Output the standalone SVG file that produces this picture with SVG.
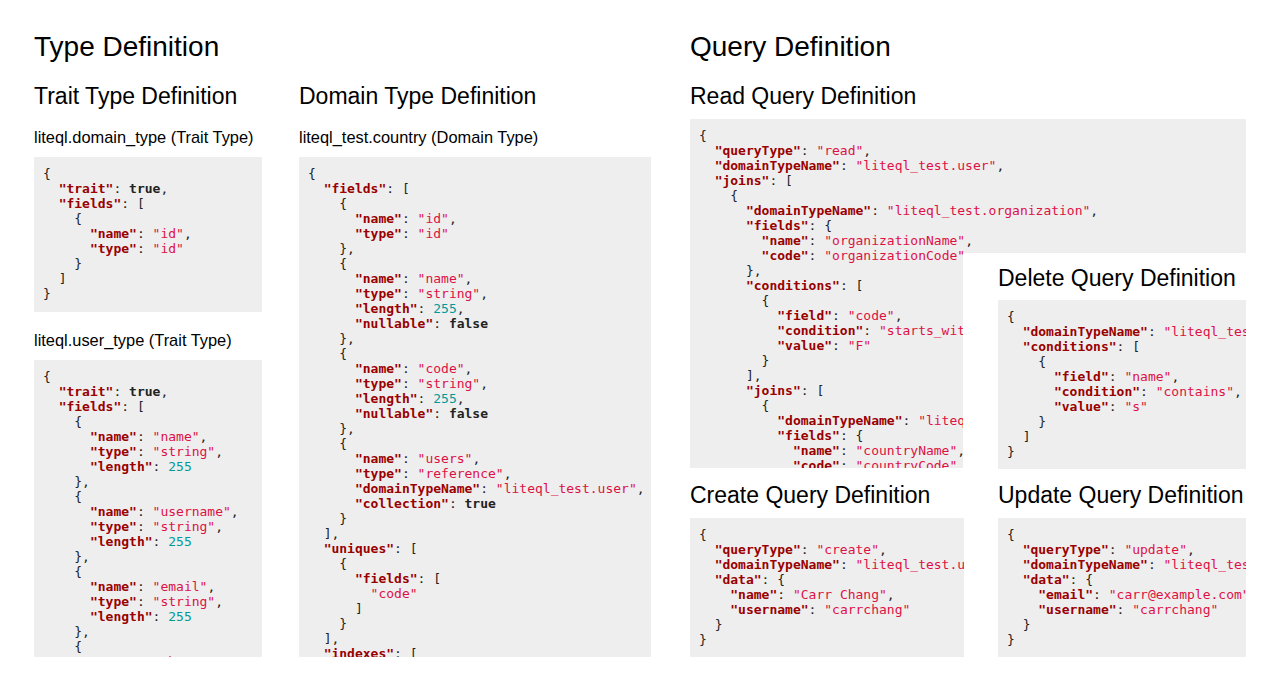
<svg xmlns="http://www.w3.org/2000/svg" width="1280" height="689" viewBox="0 0 1280 689">
<style>
.h1{font-family:"Liberation Sans",Arial,sans-serif;font-size:28px;fill:#000}
.h2{font-family:"Liberation Sans",Arial,sans-serif;font-size:23px;fill:#000}
.lb{font-family:"Liberation Sans",Arial,sans-serif;font-size:16.4px;fill:#000}
.box{fill:#eeeeee}
.c{font-family:"DejaVu Sans Mono","Liberation Mono",monospace;font-size:13px;fill:#222}
.k{fill:#990000;font-weight:bold}
.s{fill:#dd1144}
.n{fill:#009999}
.l{font-weight:bold;fill:#222}
</style>
<defs>
<clipPath id="cp-t2"><rect x="34" y="360" width="228" height="297"/></clipPath>
<clipPath id="cp-d"><rect x="299" y="157" width="352" height="500"/></clipPath>
<clipPath id="cp-r"><path d="M690,119H1246V253H963V468H690Z"/></clipPath>
<clipPath id="cp-del"><rect x="998" y="300" width="248" height="169"/></clipPath>
<clipPath id="cp-c"><rect x="690" y="518" width="274" height="139"/></clipPath>
<clipPath id="cp-u"><rect x="998" y="518" width="248" height="139"/></clipPath>
</defs>
<rect width="1280" height="689" fill="#fff"/>

<g id="type-definition">
<text class="h1" x="34" y="56">Type Definition</text>
<text class="h2" x="34" y="104">Trait Type Definition</text>
<text class="h2" x="299" y="104">Domain Type Definition</text>
</g>

<g id="trait-domain-type">
<text class="lb" x="34" y="143">liteql.domain_type (Trait Type)</text>
<rect class="box" x="34" y="157" width="228" height="155"/>
<g class="c">
<text x="43" y="178">{</text>
<text x="58.65" y="193"><tspan class="k">"trait"</tspan>: <tspan class="l">true</tspan>,</text>
<text x="58.65" y="208"><tspan class="k">"fields"</tspan>: [</text>
<text x="74.3" y="223">{</text>
<text x="89.96" y="238"><tspan class="k">"name"</tspan>: <tspan class="s">"id"</tspan>,</text>
<text x="89.96" y="253"><tspan class="k">"type"</tspan>: <tspan class="s">"id"</tspan></text>
<text x="74.3" y="268">}</text>
<text x="58.65" y="283">]</text>
<text x="43" y="298">}</text>
</g>
</g>

<g id="trait-user-type">
<text class="lb" x="34" y="346">liteql.user_type (Trait Type)</text>
<rect class="box" x="34" y="360" width="228" height="297"/>
<g class="c" clip-path="url(#cp-t2)">
<text x="43" y="381">{</text>
<text x="58.65" y="396"><tspan class="k">"trait"</tspan>: <tspan class="l">true</tspan>,</text>
<text x="58.65" y="411"><tspan class="k">"fields"</tspan>: [</text>
<text x="74.3" y="426">{</text>
<text x="89.96" y="441"><tspan class="k">"name"</tspan>: <tspan class="s">"name"</tspan>,</text>
<text x="89.96" y="456"><tspan class="k">"type"</tspan>: <tspan class="s">"string"</tspan>,</text>
<text x="89.96" y="471"><tspan class="k">"length"</tspan>: <tspan class="n">255</tspan></text>
<text x="74.3" y="486">},</text>
<text x="74.3" y="501">{</text>
<text x="89.96" y="516"><tspan class="k">"name"</tspan>: <tspan class="s">"username"</tspan>,</text>
<text x="89.96" y="531"><tspan class="k">"type"</tspan>: <tspan class="s">"string"</tspan>,</text>
<text x="89.96" y="546"><tspan class="k">"length"</tspan>: <tspan class="n">255</tspan></text>
<text x="74.3" y="561">},</text>
<text x="74.3" y="576">{</text>
<text x="89.96" y="591"><tspan class="k">"name"</tspan>: <tspan class="s">"email"</tspan>,</text>
<text x="89.96" y="606"><tspan class="k">"type"</tspan>: <tspan class="s">"string"</tspan>,</text>
<text x="89.96" y="621"><tspan class="k">"length"</tspan>: <tspan class="n">255</tspan></text>
<text x="74.3" y="636">},</text>
<text x="74.3" y="651">{</text>
<text x="89.96" y="666"><tspan class="k">"name"</tspan>: <tspan class="s">"phone"</tspan>,</text>
</g>
</g>

<g id="domain-country">
<text class="lb" x="299" y="143">liteql_test.country (Domain Type)</text>
<rect class="box" x="299" y="157" width="352" height="500"/>
<g class="c" clip-path="url(#cp-d)">
<text x="308" y="178">{</text>
<text x="323.65" y="193"><tspan class="k">"fields"</tspan>: [</text>
<text x="339.3" y="208">{</text>
<text x="354.96" y="223"><tspan class="k">"name"</tspan>: <tspan class="s">"id"</tspan>,</text>
<text x="354.96" y="238"><tspan class="k">"type"</tspan>: <tspan class="s">"id"</tspan></text>
<text x="339.3" y="253">},</text>
<text x="339.3" y="268">{</text>
<text x="354.96" y="283"><tspan class="k">"name"</tspan>: <tspan class="s">"name"</tspan>,</text>
<text x="354.96" y="298"><tspan class="k">"type"</tspan>: <tspan class="s">"string"</tspan>,</text>
<text x="354.96" y="313"><tspan class="k">"length"</tspan>: <tspan class="n">255</tspan>,</text>
<text x="354.96" y="328"><tspan class="k">"nullable"</tspan>: <tspan class="l">false</tspan></text>
<text x="339.3" y="343">},</text>
<text x="339.3" y="358">{</text>
<text x="354.96" y="373"><tspan class="k">"name"</tspan>: <tspan class="s">"code"</tspan>,</text>
<text x="354.96" y="388"><tspan class="k">"type"</tspan>: <tspan class="s">"string"</tspan>,</text>
<text x="354.96" y="403"><tspan class="k">"length"</tspan>: <tspan class="n">255</tspan>,</text>
<text x="354.96" y="418"><tspan class="k">"nullable"</tspan>: <tspan class="l">false</tspan></text>
<text x="339.3" y="433">},</text>
<text x="339.3" y="448">{</text>
<text x="354.96" y="463"><tspan class="k">"name"</tspan>: <tspan class="s">"users"</tspan>,</text>
<text x="354.96" y="478"><tspan class="k">"type"</tspan>: <tspan class="s">"reference"</tspan>,</text>
<text x="354.96" y="493"><tspan class="k">"domainTypeName"</tspan>: <tspan class="s">"liteql_test.user"</tspan>,</text>
<text x="354.96" y="508"><tspan class="k">"collection"</tspan>: <tspan class="l">true</tspan></text>
<text x="339.3" y="523">}</text>
<text x="323.65" y="538">],</text>
<text x="323.65" y="553"><tspan class="k">"uniques"</tspan>: [</text>
<text x="339.3" y="568">{</text>
<text x="354.96" y="583"><tspan class="k">"fields"</tspan>: [</text>
<text x="370.61" y="598"><tspan class="s">"code"</tspan></text>
<text x="354.96" y="613">]</text>
<text x="339.3" y="628">}</text>
<text x="323.65" y="643">],</text>
<text x="323.65" y="658"><tspan class="k">"indexes"</tspan>: [</text>
</g>
</g>

<g id="query-definition">
<text class="h1" x="690" y="56">Query Definition</text>
<text class="h2" x="690" y="104">Read Query Definition</text>
</g>

<g id="read-query">
<path class="box" d="M690,119H1246V253H963V468H690Z"/>
<g class="c" clip-path="url(#cp-r)">
<text x="699" y="140">{</text>
<text x="714.65" y="155"><tspan class="k">"queryType"</tspan>: <tspan class="s">"read"</tspan>,</text>
<text x="714.65" y="170"><tspan class="k">"domainTypeName"</tspan>: <tspan class="s">"liteql_test.user"</tspan>,</text>
<text x="714.65" y="185"><tspan class="k">"joins"</tspan>: [</text>
<text x="730.3" y="200">{</text>
<text x="745.96" y="215"><tspan class="k">"domainTypeName"</tspan>: <tspan class="s">"liteql_test.organization"</tspan>,</text>
<text x="745.96" y="230"><tspan class="k">"fields"</tspan>: {</text>
<text x="761.61" y="245"><tspan class="k">"name"</tspan>: <tspan class="s">"organizationName"</tspan>,</text>
<text x="761.61" y="260"><tspan class="k">"code"</tspan>: <tspan class="s">"organizationCode"</tspan></text>
<text x="745.96" y="275">},</text>
<text x="745.96" y="290"><tspan class="k">"conditions"</tspan>: [</text>
<text x="761.61" y="305">{</text>
<text x="777.26" y="320"><tspan class="k">"field"</tspan>: <tspan class="s">"code"</tspan>,</text>
<text x="777.26" y="335"><tspan class="k">"condition"</tspan>: <tspan class="s">"starts_with"</tspan>,</text>
<text x="777.26" y="350"><tspan class="k">"value"</tspan>: <tspan class="s">"F"</tspan></text>
<text x="761.61" y="365">}</text>
<text x="745.96" y="380">],</text>
<text x="745.96" y="395"><tspan class="k">"joins"</tspan>: [</text>
<text x="761.61" y="410">{</text>
<text x="777.26" y="425"><tspan class="k">"domainTypeName"</tspan>: <tspan class="s">"liteql_test.country"</tspan>,</text>
<text x="777.26" y="440"><tspan class="k">"fields"</tspan>: {</text>
<text x="792.91" y="455"><tspan class="k">"name"</tspan>: <tspan class="s">"countryName"</tspan>,</text>
<text x="792.91" y="470"><tspan class="k">"code"</tspan>: <tspan class="s">"countryCode"</tspan></text>
</g>
</g>

<g id="delete-query">
<text class="h2" x="998" y="286">Delete Query Definition</text>
<rect class="box" x="998" y="300" width="248" height="169"/>
<g class="c" clip-path="url(#cp-del)">
<text x="1007" y="321">{</text>
<text x="1022.65" y="336"><tspan class="k">"domainTypeName"</tspan>: <tspan class="s">"liteql_test.user"</tspan>,</text>
<text x="1022.65" y="351"><tspan class="k">"conditions"</tspan>: [</text>
<text x="1038.3" y="366">{</text>
<text x="1053.96" y="381"><tspan class="k">"field"</tspan>: <tspan class="s">"name"</tspan>,</text>
<text x="1053.96" y="396"><tspan class="k">"condition"</tspan>: <tspan class="s">"contains"</tspan>,</text>
<text x="1053.96" y="411"><tspan class="k">"value"</tspan>: <tspan class="s">"s"</tspan></text>
<text x="1038.3" y="426">}</text>
<text x="1022.65" y="441">]</text>
<text x="1007" y="456">}</text>
</g>
</g>

<g id="create-query">
<text class="h2" x="690" y="503">Create Query Definition</text>
<rect class="box" x="690" y="518" width="274" height="139"/>
<g class="c" clip-path="url(#cp-c)">
<text x="699" y="539">{</text>
<text x="714.65" y="554"><tspan class="k">"queryType"</tspan>: <tspan class="s">"create"</tspan>,</text>
<text x="714.65" y="569"><tspan class="k">"domainTypeName"</tspan>: <tspan class="s">"liteql_test.user"</tspan>,</text>
<text x="714.65" y="584"><tspan class="k">"data"</tspan>: {</text>
<text x="730.3" y="599"><tspan class="k">"name"</tspan>: <tspan class="s">"Carr Chang"</tspan>,</text>
<text x="730.3" y="614"><tspan class="k">"username"</tspan>: <tspan class="s">"carrchang"</tspan></text>
<text x="714.65" y="629">}</text>
<text x="699" y="644">}</text>
</g>
</g>

<g id="update-query">
<text class="h2" x="998" y="503">Update Query Definition</text>
<rect class="box" x="998" y="518" width="248" height="139"/>
<g class="c" clip-path="url(#cp-u)">
<text x="1007" y="539">{</text>
<text x="1022.65" y="554"><tspan class="k">"queryType"</tspan>: <tspan class="s">"update"</tspan>,</text>
<text x="1022.65" y="569"><tspan class="k">"domainTypeName"</tspan>: <tspan class="s">"liteql_test.user"</tspan>,</text>
<text x="1022.65" y="584"><tspan class="k">"data"</tspan>: {</text>
<text x="1038.3" y="599"><tspan class="k">"email"</tspan>: <tspan class="s">"carr@example.com"</tspan>,</text>
<text x="1038.3" y="614"><tspan class="k">"username"</tspan>: <tspan class="s">"carrchang"</tspan></text>
<text x="1022.65" y="629">}</text>
<text x="1007" y="644">}</text>
</g>
</g>
</svg>
